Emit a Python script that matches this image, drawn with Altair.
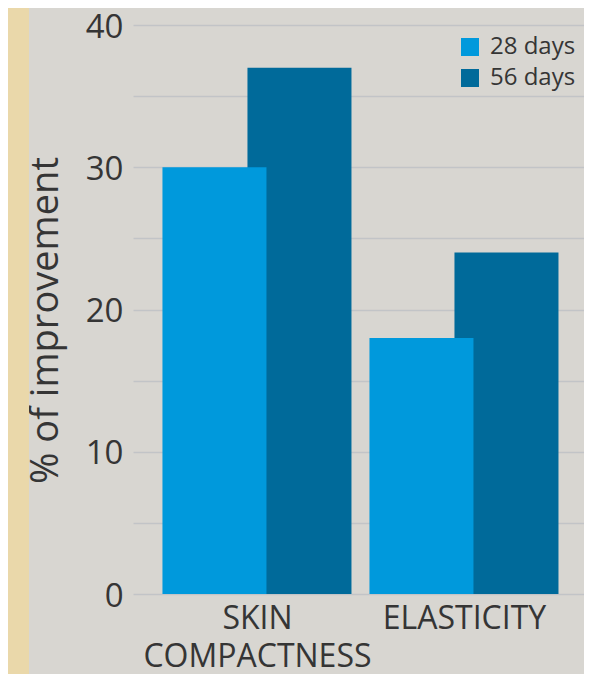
import altair as alt
import pandas as pd

categories = ["SKIN COMPACTNESS", "ELASTICITY"]
series = ["28 days", "56 days"]
values_28 = [30, 18]
values_56 = [37, 24]
colors = ["#0099dc", "#006a9a"]
y_ticks = [0, 5, 10, 15, 20, 25, 30, 35, 40]

# dark (56 days) rows first so the light bars are drawn on top
rows = []
for c, v in zip(categories, values_56):
    rows.append({"category": c, "period": series[1], "value": v})
for c, v in zip(categories, values_28):
    rows.append({"category": c, "period": series[0], "value": v})
df = pd.DataFrame(rows)

FONT = "Open Sans"
TEXT = "#353535"

strip = alt.Chart(alt.Data(values=[{}])).mark_rect(color="#ead8aa").encode(
    x=alt.value(-125), x2=alt.value(-104), y=alt.value(-17), y2=alt.value(649)
)

bars = alt.Chart(df).mark_bar(width=alt.RelativeBandSize(104 / 85)).encode(
    x=alt.X(
        "category:N",
        sort=categories,
        scale=alt.Scale(paddingInner=0.1787, paddingOuter=0.1787, align=0.655),
        axis=alt.Axis(
            title=None, domain=False, ticks=False, labelAngle=0,
            labelFont=FONT, labelFontSize=32, labelColor=TEXT,
            labelPadding=9, labelLineHeight=38, labelLimit=0,
            labelOffset=-9,
            labelExpr="split(datum.label, ' ')",
        ),
    ),
    xOffset=alt.XOffset(
        "period:N", sort=series,
        scale=alt.Scale(domain=series, paddingInner=0, paddingOuter=0),
    ),
    y=alt.Y(
        "value:Q",
        scale=alt.Scale(domain=[0, 40], nice=False),
        axis=alt.Axis(
            title="% of improvement", values=y_ticks, domain=False, ticks=False,
            tickSize=0, labelPadding=10, labelFont=FONT, labelFontSize=33,
            labelColor=TEXT, labelBaseline="middle", labelOffset=2,
            labelExpr="datum.value % 10 == 0 ? datum.label : ''",
            grid=True, gridColor="#c2c4c7", gridWidth=1.5,
            titleFont=FONT, titleFontSize=38, titleFontWeight="normal",
            titleColor=TEXT, titleAngle=270, titleAlign="center",
            titleBaseline="alphabetic", titleX=-76, titleY=295,
        ),
    ),
    color=alt.Color(
        "period:N",
        scale=alt.Scale(domain=series, range=colors),
        legend=alt.Legend(
            title=None, orient="none", legendX=325, legendY=10,
            symbolType="square", symbolSize=324, symbolStrokeWidth=0,
            labelFont=FONT, labelFontSize=24, labelColor=TEXT,
            labelOffset=8, rowPadding=7, padding=0,
        ),
    ),
)

chart = alt.layer(strip, bars).properties(
    width=451,
    height=569,
    padding={"left": 125, "top": 17, "right": 0, "bottom": 80},
    autosize=alt.AutoSizeParams(type="none"),
    background="#d8d6d1",
).configure_view(stroke=None)

chart.save("out.html", embed_options={"renderer": "svg", "actions": False})
